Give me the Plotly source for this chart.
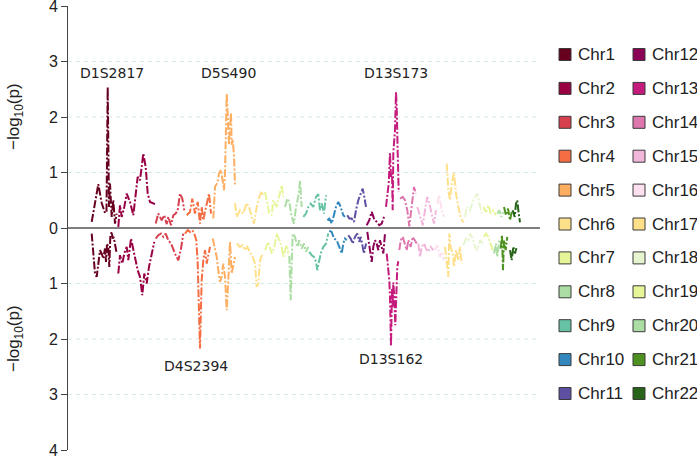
import plotly.graph_objects as go

chromosomes = ["Chr%d" % i for i in range(1, 23)]
colors = ["#67001f", "#980043", "#d6404e", "#f46d43", "#fdae61", "#fee08b",
          "#e6f598", "#abdda4", "#66c2a5", "#3288bd", "#5e4fa2", "#8a0156",
          "#c51b7d", "#de77ae", "#f1b6da", "#fde0ef", "#fee08b", "#e6f5d0",
          "#e6f598", "#abdda4", "#4d9221", "#276419"]

# ---- upper panel (positions, -log10 p) ----
c1_top_pos = [23.7, 27, 30.3, 33.7, 35.5, 37, 38.5, 39.7, 41, 42, 43.7, 45.3, 47, 48.7]
c1_top_val = [0.11, 0.45, 0.79, 0.45, 0.35, 0.27, 0.3, 2.54, 0.38, 0.8, 0.2, 0.5, 0.08, 0.26]
c2_top_pos = [50.3, 52, 53.7, 56.3, 58.7, 62, 65.3, 67.7, 69.7, 72, 73.7, 75.3, 77.7, 79.7, 82, 87]
c2_top_val = [0.02, 0.41, 0.2, 0.38, 0.62, 0.47, 0.23, 0.68, 0.92, 0.86, 1.16, 1.34, 1.1, 0.62, 0.47, 0.43]
c3_top_pos = [87.7, 90.3, 93.7, 96.3, 98.7, 100.3, 103, 105.3, 107.7, 109.7, 112, 114.3, 116.3]
c3_top_val = [0.08, 0.26, 0.14, 0.23, 0.07, 0.2, 0.05, 0.23, 0.26, 0.32, 0.62, 0.53, 0.32]
c4_top_pos = [118.7, 122, 124.3, 127, 129.7, 132, 133.7, 135.3, 137, 138.7, 141, 143]
c4_top_val = [0.23, 0.29, 0.53, 0.26, 0.47, 0.08, 0.38, 0.14, 0.29, 0.41, 0.62, 0.26]
c5_top_pos = [145.3, 147, 149.7, 151, 153, 154.7, 156, 157, 158.7, 159.7, 161, 162, 163, 163.7, 164.7, 166, 167]
c5_top_val = [0.17, 0.74, 0.83, 0.98, 1.05, 0.86, 0.68, 0.98, 2.42, 2.06, 1.5, 1.8, 2.08, 1.5, 1.6, 1.3, 0.78]
c6_top_pos = [167, 168.7, 172, 175.3, 178.7, 181.3, 183.7, 186, 188.7, 191.3, 193.7, 195.3]
c6_top_val = [0.45, 0.2, 0.32, 0.26, 0.45, 0.36, 0.2, 0.08, 0.38, 0.56, 0.66, 0.57]
c7_top_pos = [197, 199.3, 201.3, 203.7, 205.3, 208.7, 211.3, 213.7, 215.3]
c7_top_val = [0.65, 0.45, 0.27, 0.23, 0.5, 0.38, 0.56, 0.77, 0.56]
c8_top_pos = [217, 219.3, 221.3, 223.7, 226, 228, 230.3, 232, 233.7]
c8_top_val = [0.38, 0.53, 0.47, 0.2, 0.08, 0.38, 0.56, 0.85, 0.38]
c9_top_pos = [235.3, 238, 240.3, 242.7, 245.3, 248, 250.3, 252, 253.7, 256, 258]
c9_top_val = [0.2, 0.26, 0.38, 0.44, 0.38, 0.56, 0.61, 0.32, 0.44, 0.26, 0.59]
c10_top_pos = [259.3, 261.3, 263.7, 266, 268, 270.3, 272, 273.7, 275.3, 277]
c10_top_val = [0.14, 0.17, 0.08, 0.26, 0.38, 0.47, 0.41, 0.32, 0.23, 0.2]
c11_top_pos = [279.3, 281.3, 283.7, 286, 288, 290.3, 292.7, 294.7, 296.3, 298]
c11_top_val = [0.23, 0.17, 0.17, 0.11, 0.32, 0.5, 0.62, 0.71, 0.56, 0.38]
c12_top_pos = [298.7, 301.3, 303.7, 306, 308.7, 311.3, 313.7, 316]
c12_top_val = [0.05, 0.14, 0.29, 0.17, 0.11, 0.05, 0.08, 0.2]
c13_top_pos = [318, 319.3, 320.7, 322, 323, 324, 324.7, 325.3, 326, 327, 328, 328.7, 329.7, 330.7]
c13_top_val = [0.38, 0.62, 0.8, 1.35, 0.92, 0.98, 0.32, 1.35, 1.57, 1.77, 2.45, 2.19, 1.35, 0.65]
c14_top_pos = [332, 334.7, 337, 339.3, 341.3, 343.7, 346, 348]
c14_top_val = [0.53, 0.56, 0.5, 0.32, 0.03, 0.38, 0.74, 0.62]
c15_top_pos = [349.3, 352, 354.7, 357, 359.3, 361.3, 363.7, 366, 368]
c15_top_val = [0.38, 0.2, 0.05, 0.32, 0.56, 0.44, 0.26, 0.08, 0.32]
c16_top_pos = [369.3, 371.3, 373.7, 376]
c16_top_val = [0.44, 0.59, 0.32, 0.2]
c17_top_pos = [378.7, 380.3, 382, 383.7, 386, 388, 390.3, 392.7, 395.3]
c17_top_val = [1.16, 0.68, 0.5, 0.8, 1.0, 0.62, 0.38, 0.2, 0.1]
c18_top_pos = [397, 398.7, 402, 405.3, 409.3, 411.3, 413.7]
c18_top_val = [0.2, 0.38, 0.32, 0.5, 0.62, 0.44, 0.26]
c19_top_pos = [415.3, 418, 420.3, 422.7, 425.3, 428]
c19_top_val = [0.38, 0.29, 0.41, 0.26, 0.32, 0.23]
c20_top_pos = [429.3, 431.3, 433.3, 435.3]
c20_top_val = [0.26, 0.32, 0.2, 0.29]
c21_top_pos = [436, 438, 440, 442, 443.7]
c21_top_val = [0.38, 0.23, 0.35, 0.14, 0.29]
c22_top_pos = [444.7, 446.7, 448, 449.3, 450.7, 452]
c22_top_val = [0.32, 0.2, 0.44, 0.5, 0.26, 0.1]

# ---- lower panel (positions, -log10 p) ----
c1_bot_pos = [23.7, 25.3, 27, 28.7, 30.3, 32, 33.7, 35.3, 37, 38, 39, 40.3, 41.3, 42.3, 43.7, 44.7, 45.7, 47, 48.7]
c1_bot_val = [0.1, 0.4, 0.82, 0.88, 0.58, 0.4, 0.46, 0.55, 0.37, 0.61, 0.28, 0.34, 0.7, 0.16, 0.07, 0.19, 0.16, 0.31, 0.46]
c2_bot_pos = [50.3, 52, 54.3, 56.3, 58.7, 60.3, 63, 65.3, 67.7, 69.7, 72, 74.3, 76.3, 78.7, 81, 83.7, 86.3]
c2_bot_val = [0.82, 0.49, 0.64, 0.46, 0.34, 0.58, 0.19, 0.4, 0.64, 0.76, 0.88, 1.21, 0.82, 1.0, 0.7, 0.46, 0.25]
c3_bot_pos = [87.7, 90.3, 93, 95.3, 97.7, 100.3, 103, 105.3, 107.7, 110.3, 113, 115.3]
c3_bot_val = [0.19, 0.13, 0.1, 0.16, 0.1, 0.22, 0.28, 0.4, 0.49, 0.58, 0.37, 0.1]
c4_bot_pos = [117, 119.7, 122, 124.3, 126.3, 128.3, 129.7, 131, 132, 133, 133.7, 135.3, 137, 138.7, 140.3, 142]
c4_bot_val = [0.1, 0.04, 0.07, 0.04, 0.1, 0.22, 0.64, 1.36, 2.17, 1.42, 0.94, 0.58, 0.4, 0.64, 0.52, 0.34]
c5_bot_pos = [144.7, 147, 148.7, 150.3, 152, 153.7, 155.3, 157, 158.7, 160.3, 162, 163.7, 165.3, 167]
c5_bot_val = [0.19, 0.37, 0.52, 0.76, 0.97, 0.88, 0.64, 0.88, 1.48, 0.94, 0.25, 0.82, 0.7, 0.52]
c6_bot_pos = [168.7, 172, 174.7, 177, 179.3, 182, 184.7, 187, 188.7, 190.3, 192, 194.7]
c6_bot_val = [0.28, 0.34, 0.31, 0.4, 0.34, 0.43, 0.52, 0.64, 1.06, 1.0, 0.58, 0.46]
c7_bot_pos = [197, 200.3, 203.7, 206, 208.7, 211.3, 213.7, 215.3, 217, 218.7, 220.3]
c7_bot_val = [0.4, 0.25, 0.46, 0.37, 0.1, 0.22, 0.34, 0.52, 0.4, 0.31, 0.46]
c8_bot_pos = [221.3, 222.7, 223.7, 224.7, 227, 229.3, 231.3, 233.7, 236, 238, 240.3]
c8_bot_val = [0.5, 1.3, 0.64, 0.1, 0.16, 0.34, 0.22, 0.37, 0.28, 0.43, 0.34]
c9_bot_pos = [241.3, 243.7, 246, 248, 249.3, 251.3, 252.7, 255.3, 258, 260.3]
c9_bot_val = [0.43, 0.49, 0.52, 0.61, 0.76, 0.58, 0.46, 0.34, 0.28, 0.1]
c10_bot_pos = [261.3, 263.7, 266, 268.7, 271.3, 272.7, 273.7, 275.3, 277, 278.7]
c10_bot_val = [0.05, 0.07, 0.19, 0.22, 0.34, 0.43, 0.46, 0.28, 0.19, 0.22]
c11_bot_pos = [280.3, 282.7, 284.7, 287, 289.3, 291.3, 292.7, 294.7, 296, 298]
c11_bot_val = [0.13, 0.19, 0.28, 0.16, 0.1, 0.25, 0.16, 0.34, 0.46, 0.28]
c12_bot_pos = [299.3, 300.7, 302, 303.7, 305.3, 307, 308.7, 310.3, 312, 313.7, 315.3, 317]
c12_bot_val = [0.07, 0.22, 0.43, 0.61, 0.34, 0.22, 0.28, 0.4, 0.22, 0.34, 0.46, 0.1]
c13_bot_pos = [318.7, 320.3, 321.3, 322, 323, 324, 324.7, 325.3, 326.3, 327.3, 328.3, 329.3, 330.3]
c13_bot_val = [0.46, 0.7, 0.94, 1.24, 2.13, 1.1, 1.42, 0.98, 1.24, 1.75, 1.05, 0.7, 0.6]
c14_bot_pos = [331.3, 332.7, 334.7, 337, 338.7, 340.3, 342.7, 344.7, 347, 348.7]
c14_bot_val = [0.4, 0.22, 0.16, 0.28, 0.4, 0.22, 0.34, 0.16, 0.22, 0.28]
c15_bot_pos = [350.3, 352, 353.7, 356, 358, 360.3, 362.7, 365.3]
c15_bot_val = [0.28, 0.52, 0.34, 0.28, 0.37, 0.43, 0.34, 0.4]
c16_bot_pos = [367, 369.3, 372, 374, 376]
c16_bot_val = [0.4, 0.31, 0.52, 0.43, 0.58]
c17_bot_pos = [377, 378.7, 380.3, 381.3, 382.7, 384.7, 386, 388, 390.3, 392, 393.7]
c17_bot_val = [0.34, 0.64, 0.88, 0.1, 0.34, 0.46, 0.7, 0.4, 0.58, 0.34, 0.64]
c18_bot_pos = [395.3, 398, 400.3, 402, 404.7, 407, 409.3, 412, 414.7]
c18_bot_val = [0.31, 0.19, 0.22, 0.1, 0.19, 0.34, 0.4, 0.22, 0.28]
c19_bot_pos = [416, 418, 420.3, 422.7, 424.7]
c19_bot_val = [0.16, 0.1, 0.16, 0.28, 0.4]
c20_bot_pos = [426, 428, 429.3, 431.3]
c20_bot_val = [0.46, 0.28, 0.52, 0.22]
c21_bot_pos = [432.7, 434, 435, 436, 437.7, 439.3]
c21_bot_val = [0.37, 0.13, 0.76, 0.22, 0.4, 0.16]
c22_bot_pos = [442, 443.7, 445.3, 447, 448.7]
c22_bot_val = [0.4, 0.58, 0.34, 0.46, 0.34]

# marker labels: (name, position, y-value for label; negative = lower panel)
label_names = ["D1S2817", "D5S490", "D13S173", "D4S2394", "D13S162"]
label_pos = [43.5, 160, 328, 128, 323]
label_y = [2.79, 2.79, 2.79, -2.48, -2.36]

top_pos = [globals()["c%d_top_pos" % i] for i in range(1, 23)]
top_val = [globals()["c%d_top_val" % i] for i in range(1, 23)]
bot_pos = [globals()["c%d_bot_pos" % i] for i in range(1, 23)]
bot_val = [globals()["c%d_bot_val" % i] for i in range(1, 23)]

fig = go.Figure()
LW = 2
DASH = "8px,2px,2px,2px"
for i, name in enumerate(chromosomes):
    fig.add_trace(go.Scatter(x=top_pos[i], y=top_val[i], mode="lines", name=name,
                             line=dict(color=colors[i], width=LW, dash=DASH),
                             showlegend=False, hoverinfo="skip"))
    fig.add_trace(go.Scatter(x=bot_pos[i], y=[-v for v in bot_val[i]], mode="lines", name=name,
                             line=dict(color=colors[i], width=LW, dash=DASH),
                             showlegend=False, hoverinfo="skip"))

shapes = []
for g in [-3, -2, -1, 1, 2, 3]:
    shapes.append(dict(type="line", xref="paper", yref="y", x0=0, x1=1, y0=g, y1=g,
                       line=dict(color="#d5e9e9", width=1, dash="4px,4px"), layer="below"))
shapes.append(dict(type="line", xref="paper", yref="y", x0=0, x1=1, y0=0, y1=0,
                   line=dict(color="#555555", width=1.5)))

annotations = []
for n, p, yv in zip(label_names, label_pos, label_y):
    annotations.append(dict(x=p, y=yv, xref="x", yref="y", text=n, showarrow=False,
                            font=dict(family="DejaVu Sans", size=14, color="#222222")))

# legend / title placement helpers (pixel -> paper)
PL, PW, PT, PH = 68.0, 472.0, 6.0, 444.0
def px2x(px):
    return (px - PL) / PW
def py2y(py):
    return (PT + PH - py) / PH

# y-axis titles (one per panel)
for yc in [2.0, -2.0]:
    annotations.append(dict(x=px2x(15), y=yc, xref="paper", yref="y", text="\u2212log<sub>10</sub>(p)",
                            textangle=-90, showarrow=False, xanchor="center", yanchor="middle",
                            font=dict(family="Liberation Sans, Arial", size=17, color="#222222")))

# legend (two columns)
for i, name in enumerate(chromosomes):
    col = 0 if i < 11 else 1
    row = i if i < 11 else i - 11
    cy = 54.5 + 33.9 * row
    sx = 559 if col == 0 else 633
    tx = 576 if col == 0 else 650
    shapes.append(dict(type="rect", xref="paper", yref="paper",
                       x0=px2x(sx), x1=px2x(sx + 12), y0=py2y(cy + 6), y1=py2y(cy - 6),
                       fillcolor=colors[i], line=dict(color="#3a3a3a", width=1)))
    annotations.append(dict(x=px2x(tx), y=py2y(cy), xref="paper", yref="paper", text=name,
                            showarrow=False, xanchor="left", yanchor="middle",
                            font=dict(family="Liberation Sans, Arial", size=17, color="#222222")))

fig.update_layout(
    width=697, height=457,
    margin=dict(l=68, r=157, t=6, b=7, pad=0, autoexpand=False),
    paper_bgcolor="white", plot_bgcolor="white",
    showlegend=False,
    xaxis=dict(range=[0, 472], visible=False, fixedrange=True, automargin=False),
    yaxis=dict(range=[-4, 4], tickvals=[-4, -3, -2, -1, 0, 1, 2, 3, 4],
               ticktext=["4", "3", "2", "1", "0", "1", "2", "3", "4"], automargin=False,
               showgrid=False, zeroline=False, showline=True, linecolor="#444444", linewidth=1,
               ticks="outside", ticklen=6, tickcolor="#444444", ticklabeloverflow="allow",
               tickfont=dict(family="Liberation Sans, Arial", size=16, color="#222222")),
    shapes=shapes, annotations=annotations,
)

fig.write_html("out.html", config={"displayModeBar": False},
               post_script="document.body.style.margin='0px';document.body.style.overflow='hidden';")
